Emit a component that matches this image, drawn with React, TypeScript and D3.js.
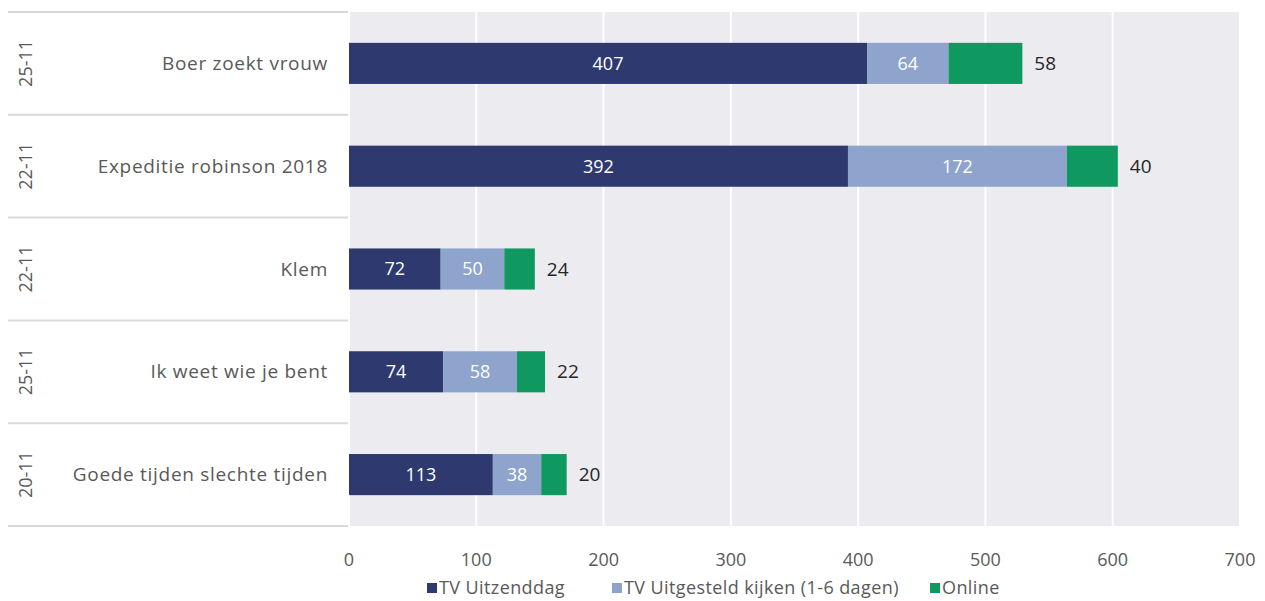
import React from 'react';
import * as d3 from 'd3';

// Kijkcijfers per programma (x 1000)
const programs = ['Boer zoekt vrouw', 'Expeditie robinson 2018', 'Klem', 'Ik weet wie je bent', 'Goede tijden slechte tijden'];
const dates = ['25-11', '22-11', '22-11', '25-11', '20-11'];
const tvLive = [407, 392, 72, 74, 113];
const tvDelayed = [64, 172, 50, 58, 38];
const online = [58, 40, 24, 22, 20];
const seriesNames = ['TV Uitzenddag', 'TV Uitgesteld kijken (1-6 dagen)', 'Online'];
const xTicks = [0, 100, 200, 300, 400, 500, 600, 700];

const colors = ['#2e3a6f', '#8ea4cc', '#0f9960'];
const font = '"Open Sans", Lato, sans-serif';

const App: React.FC = () => {
    const width = 1265;
    const height = 601;
    const margin = { top: 12, left: 349, right: 25, bottom: 75 };
    const labelLeft = 8;

    const x = d3.scaleLinear().domain([0, 700]).range([margin.left, width - margin.right]);
    const y = d3.scaleBand<string>()
        .domain(programs)
        .range([margin.top, height - margin.bottom])
        .paddingInner(0.6)
        .paddingOuter(0.3);
    const band = d3.scaleBand<string>().domain(programs).range([margin.top, height - margin.bottom]);

    const rows = programs.map((p, i) => ({ name: p, date: dates[i], values: [tvLive[i], tvDelayed[i], online[i]] }));
    const stack = d3.stack<{ name: string; values: number[] }, number>()
        .keys([0, 1, 2])
        .value((d, k) => d.values[k]);
    const series = stack(rows);

    const legendX = [427, 612, 930];

    return (
        <svg width={width} height={height} style={{ position: 'absolute', left: 0, top: 0, background: '#fff' }} fontFamily={font}>
            {/* plot background */}
            <rect x={x(0) - 1} y={margin.top} width={x(700) - x(0) + 1} height={height - margin.bottom - margin.top} fill="#ebebf0" />
            {xTicks.map(t => (
                <line key={t} x1={x(t)} x2={x(t)} y1={margin.top} y2={height - margin.bottom} stroke="#fff" strokeWidth={2} />
            ))}
            {/* left label table */}
            {programs.map(p => (
                <line key={'l' + p} x1={labelLeft} x2={margin.left - 1} y1={band(p)!} y2={band(p)!} stroke="#d9d9d9" strokeWidth={2} />
            ))}
            <line x1={labelLeft} x2={margin.left - 1} y1={height - margin.bottom} y2={height - margin.bottom} stroke="#d9d9d9" strokeWidth={2} />
            {rows.map(r => {
                const cy = band(r.name)! + band.bandwidth() / 2;
                return (
                    <g key={'t' + r.name}>
                        <text x={328} y={cy} dy="0.35em" textAnchor="end" fontSize={19} letterSpacing={0.7} fill="#595959">{r.name}</text>
                        <text transform={`translate(26,${cy}) rotate(-90)`} dy="0.35em" textAnchor="middle" fontSize={18} fill="#595959">{r.date}</text>
                    </g>
                );
            })}
            {/* bars */}
            {series.map((s, si) => (
                <g key={'s' + si}>
                    {s.map(d => (
                        <rect key={d.data.name} x={x(d[0])} y={y(d.data.name)!} width={x(d[1]) - x(d[0])} height={y.bandwidth()} fill={colors[si]} />
                    ))}
                </g>
            ))}
            {/* value labels */}
            {series.map((s, si) => (
                <g key={'v' + si}>
                    {s.map(d => {
                        const cy = y(d.data.name)! + y.bandwidth() / 2;
                        const v = d.data.values[si];
                        if (si === 2) {
                            return <text key={d.data.name} x={x(d[1]) + 12} y={cy} dy="0.35em" fontSize={19} fill="#262626">{v}</text>;
                        }
                        return <text key={d.data.name} x={(x(d[0]) + x(d[1])) / 2} y={cy} dy="0.35em" textAnchor="middle" fontSize={18} fill="#fff">{v}</text>;
                    })}
                </g>
            ))}
            {/* x axis labels */}
            {xTicks.map(t => (
                <text key={'x' + t} x={x(t)} y={560} dy="0.35em" textAnchor="middle" fontSize={18} fill="#595959">{t}</text>
            ))}
            {/* legend */}
            {seriesNames.map((n, i) => (
                <g key={n} transform={`translate(${legendX[i]},588)`}>
                    <rect x={0} y={-5} width={10} height={10} fill={colors[i]} />
                    <text x={12} y={0} dy="0.35em" fontSize={18} letterSpacing={0.4} fill="#595959">{n}</text>
                </g>
            ))}
        </svg>
    );
};

export default App;
